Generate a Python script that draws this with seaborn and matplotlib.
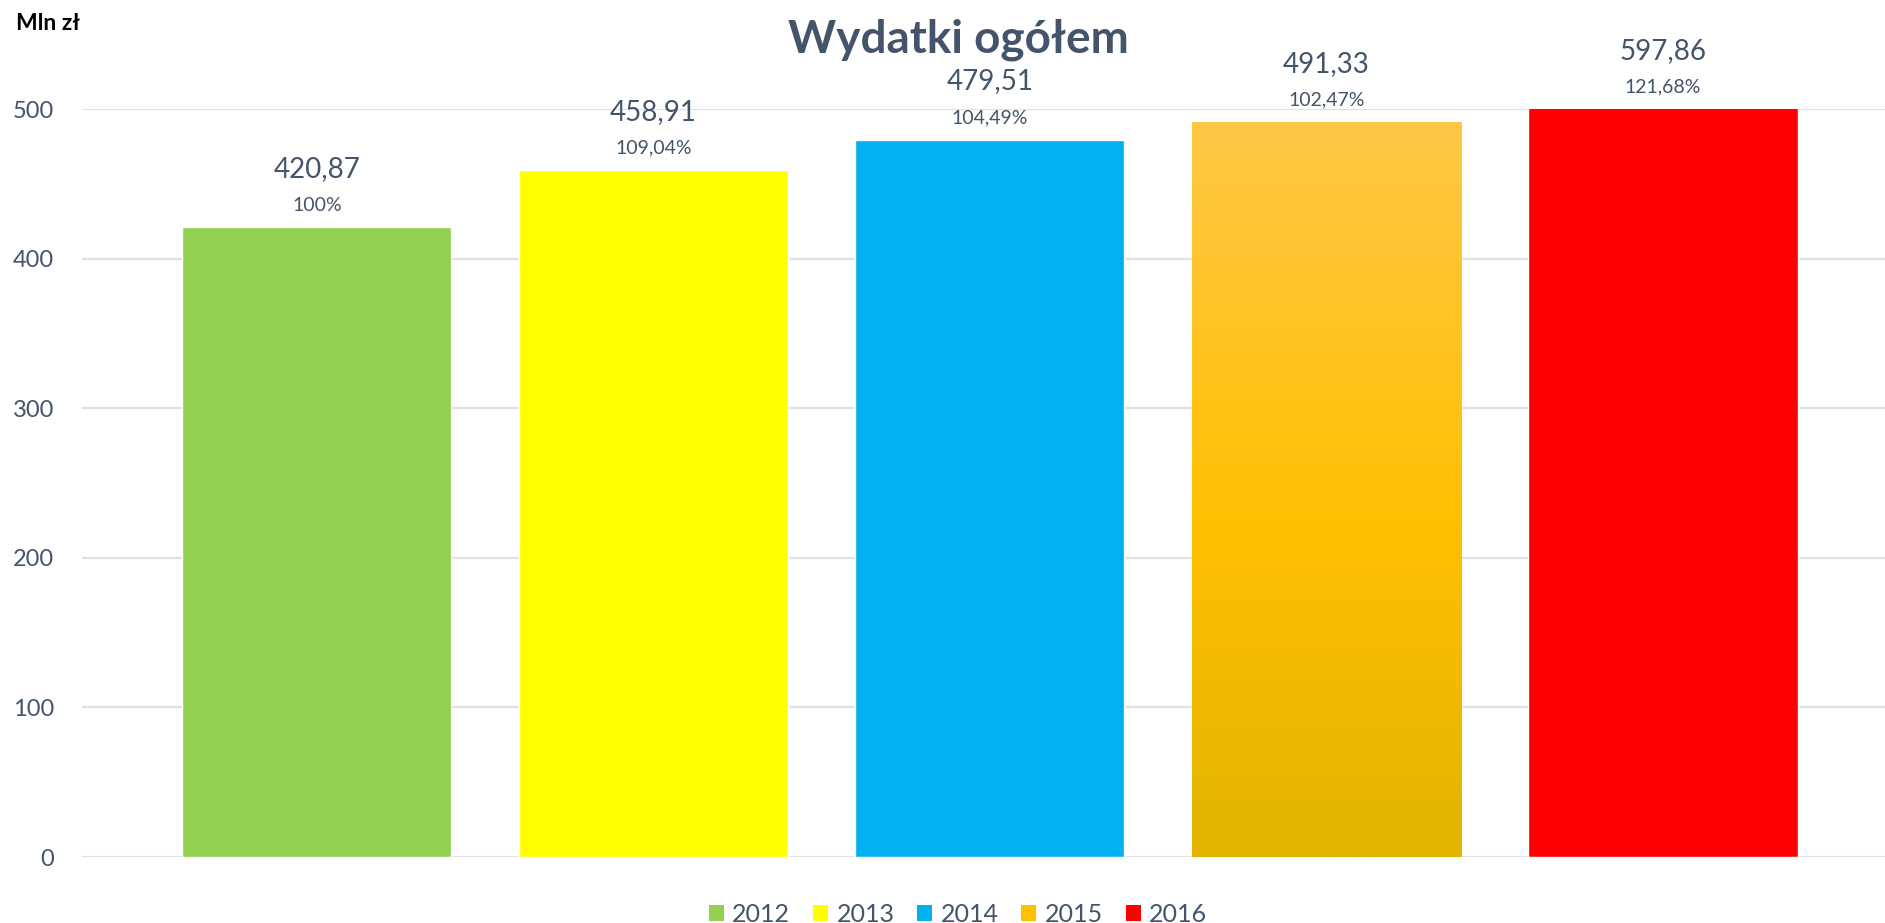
import numpy as np
import pandas as pd
import matplotlib.pyplot as plt
import seaborn as sns
from matplotlib.patches import Patch
from matplotlib.colors import LinearSegmentedColormap

# Data
years = ['2012', '2013', '2014', '2015', '2016']
values = [420.87, 458.91, 479.51, 491.33, 597.86]
value_labels = ['420,87', '458,91', '479,51', '491,33', '597,86']
pct_labels = ['100%', '109,04%', '104,49%', '102,47%', '121,68%']
colors = ['#92D050', '#FFFF00', '#00B0F0', '#FFC000', '#FF0000']
y_ticks = [0, 100, 200, 300, 400, 500]

df = pd.DataFrame({'year': years, 'value': values})

text_color = '#44546A'
grid_color = '#DEE2E8'

sns.set_theme(style='white')
plt.rcParams['font.family'] = ['Lato', 'DejaVu Sans']

W, H = 1885, 923
fig = plt.figure(figsize=(W / 100, H / 100), dpi=100)
ax = fig.add_axes([82 / W, 1 - 857 / H, (W - 82) / W, 748 / H])

sns.barplot(
    data=df, x='year', y='value', hue='year',
    palette=colors, width=0.8, saturation=1,
    legend=False, ax=ax, zorder=2
)

ymax = y_ticks[-1]
ax.set_yticks(y_ticks)
ax.set_xticks([])
ax.set_xlabel('')
ax.set_ylabel('')
ax.grid(axis='y', color=grid_color, linewidth=1.6, zorder=0)
ax.set_axisbelow(True)
for s in ax.spines.values():
    s.set_visible(False)
ax.tick_params(axis='y', length=0, pad=20, labelsize=17, labelcolor=text_color)

# gradient fill for the 2015 bar
bar = ax.patches[3]
x0, w = bar.get_x(), bar.get_width()
top = min(bar.get_height(), ymax)
grad_cmap = LinearSegmentedColormap.from_list(
    'grad', [(0.0, '#E2B300'), (0.45, '#FFC000'), (1.0, '#FFC746')]
)
grad = np.linspace(0, 1, 256).reshape(-1, 1)
im = ax.imshow(grad, cmap=grad_cmap, origin='lower', aspect='auto',
               extent=(x0, x0 + w, 0, top), zorder=2.5)
im.set_clip_path(bar)
ax.set_xlim(-0.698, 4.66)
ax.set_ylim(0, ymax)

# data labels
for i, v in enumerate(values):
    y = min(v, ymax)
    ax.annotate(value_labels[i], xy=(i, y), xytext=(0, 42),
                textcoords='offset points', ha='center', va='center',
                fontsize=20, color=text_color, annotation_clip=False)
    ax.annotate(pct_labels[i], xy=(i, y), xytext=(0, 16),
                textcoords='offset points', ha='center', va='center',
                fontsize=14, color=text_color, annotation_clip=False)

# title and unit
fig.text(958 / W, 1 - 40 / H, 'Wydatki ogółem', ha='center', va='center',
         fontsize=33, fontweight='bold', color=text_color)
fig.text(16 / W, 1 - 24 / H, 'Mln zł', ha='left', va='center',
         fontsize=16.5, fontweight='bold', color='black')

# legend
handles = [Patch(facecolor=c, edgecolor='none') for c in colors]
fig.legend(handles, years, loc='center', bbox_to_anchor=(958 / W, 1 - 914 / H),
           ncol=5, frameon=False, handlelength=0.6, handleheight=0.6,
           handletextpad=0.35, columnspacing=0.9, fontsize=18,
           labelcolor=text_color)

plt.savefig('out.png', dpi=100)
